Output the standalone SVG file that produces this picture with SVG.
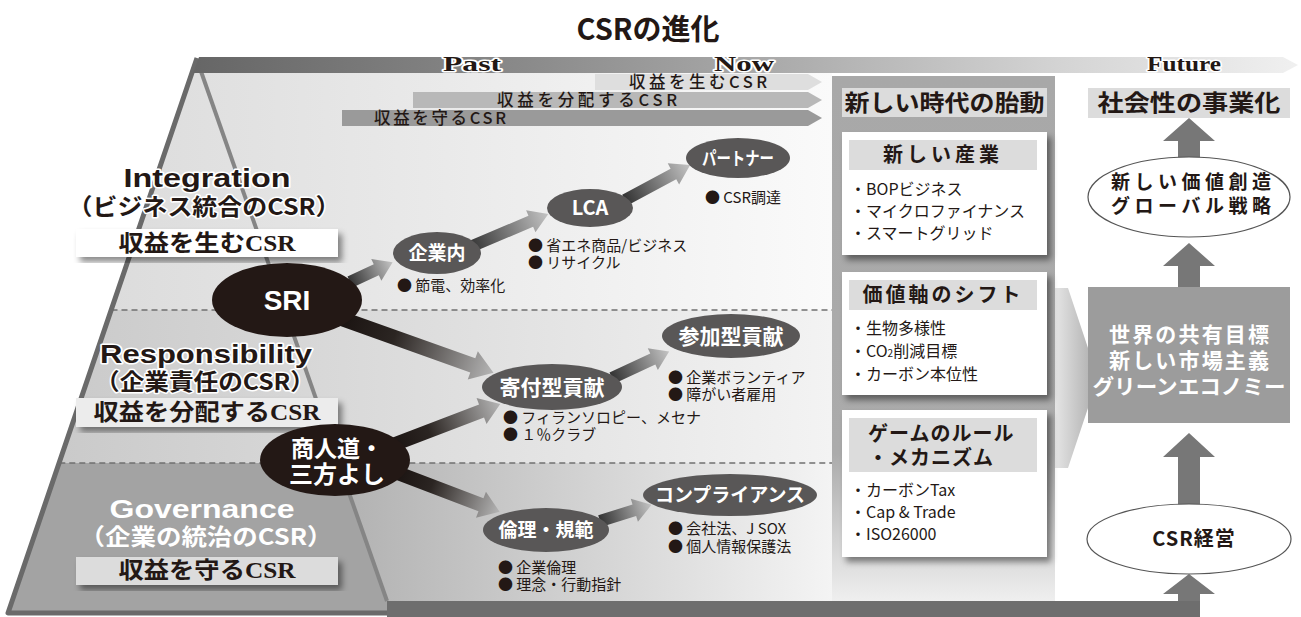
<svg xmlns="http://www.w3.org/2000/svg" width="1301" height="617" viewBox="0 0 1301 617">
<style>
.jp{font-family:"Noto Sans CJK JP",sans-serif}
.b{font-weight:700}
.ser{font-family:"Liberation Serif","Noto Sans CJK JP",serif;font-weight:700}
.lat{font-family:"Liberation Sans","Noto Sans CJK JP",sans-serif;font-weight:700}
.nd{fill:#595757}
.nb{fill:#231815}
.nt{fill:#fff;font-family:"Noto Sans CJK JP",sans-serif;font-weight:700;text-anchor:middle}
.bul{font-family:"Noto Sans CJK JP",sans-serif;font-size:15px;fill:#231815}
.item{font-family:"Noto Sans CJK JP",sans-serif;font-size:16px;fill:#231815}
.hdr{fill:#dcdcdc}
.card{fill:#fff;filter:url(#sh)}
.up{fill:#777}
.dash{stroke:#707070;stroke-width:1.5;stroke-dasharray:6 4;fill:none}
.halo{stroke:#fff;stroke-width:3;paint-order:stroke;stroke-linejoin:round}
.arr{fill:url(#ga)}
.arrB{fill:url(#gb)}
.pa{font-family:"Noto Sans CJK JP",sans-serif;font-size:16.5px;font-weight:500;fill:#231815;text-anchor:middle}
</style>
<defs>
<filter id="sh" x="-10%" y="-10%" width="125%" height="130%">
<feDropShadow dx="4" dy="5" stdDeviation="3" flood-color="#000" flood-opacity="0.45"/>
</filter>
<linearGradient id="gbar" x1="0" y1="0" x2="1" y2="0">
<stop offset="0" stop-color="#666"/><stop offset="0.3" stop-color="#8a8a8a"/><stop offset="0.55" stop-color="#aeaeae"/><stop offset="0.8" stop-color="#d6d6d6"/><stop offset="1" stop-color="#f0f0f0"/>
</linearGradient>
<linearGradient id="gTop" gradientUnits="userSpaceOnUse" x1="110" y1="0" x2="832" y2="0">
<stop offset="0" stop-color="#dcdcdc"/><stop offset="1" stop-color="#fafafa"/>
</linearGradient>
<linearGradient id="gMid" gradientUnits="userSpaceOnUse" x1="60" y1="0" x2="832" y2="0">
<stop offset="0" stop-color="#cacaca"/><stop offset="1" stop-color="#f3f3f3"/>
</linearGradient>
<linearGradient id="gBot" gradientUnits="userSpaceOnUse" x1="330" y1="0" x2="832" y2="0">
<stop offset="0" stop-color="#b0b0b0"/><stop offset="1" stop-color="#f4f4f4"/>
</linearGradient>
<linearGradient id="gPanel" x1="0" y1="0" x2="0" y2="1">
<stop offset="0" stop-color="#a8a8a8"/><stop offset="0.72" stop-color="#ababab"/><stop offset="1" stop-color="#efefef"/>
</linearGradient>
<linearGradient id="gChev" x1="0" y1="0" x2="1" y2="0">
<stop offset="0" stop-color="#ececec"/><stop offset="1" stop-color="#a9a9a9"/>
</linearGradient>
<linearGradient id="ga" x1="0" y1="0" x2="1" y2="0">
<stop offset="0" stop-color="#333"/><stop offset="1" stop-color="#c4c4c4"/>
</linearGradient>
<linearGradient id="gb" x1="0" y1="0" x2="1" y2="0">
<stop offset="0" stop-color="#1a1311"/><stop offset="0.35" stop-color="#2b2522"/><stop offset="1" stop-color="#b5b5b5"/>
</linearGradient>
</defs>

<rect width="1301" height="617" fill="#fff"/>

<!-- title -->
<text x="648" y="40" class="jp b" font-size="29" text-anchor="middle" fill="#231815">CSRの進化</text>

<!-- pyramid background -->
<g id="pyramid">
<polygon points="197,60 832,60 832,310 111.5,310" fill="url(#gTop)"/>
<polygon points="111.5,310 832,310 832,463 59.3,463" fill="url(#gMid)"/>
<polygon points="59.3,463 832,463 832,601 387,601 387,613 8,613" fill="url(#gBot)"/>
<polygon points="59.3,463 338.3,463 387,601 387,613 8,613" fill="#a3a3a3"/>
<line x1="111.5" y1="310" x2="832" y2="310" class="dash"/>
<line x1="59.3" y1="463" x2="832" y2="463" class="dash"/>
<line x1="197" y1="60" x2="387" y2="601" stroke="#858585" stroke-width="4"/>
<polyline points="197,58 8,613 390,613" fill="none" stroke="#6a6a6a" stroke-width="5" stroke-linejoin="round"/>
<rect x="387" y="601" width="813" height="16" fill="#6e6e6e"/>
</g>

<!-- timeline -->
<g id="timeline">
<path d="M193,73 L199,57 L1283,57 L1298,65 L1283,73 Z" fill="url(#gbar)"/>
<text x="472" y="71" class="ser halo" font-size="22" text-anchor="middle" fill="#231815" textLength="58" lengthAdjust="spacingAndGlyphs">Past</text>
<text x="744" y="71" class="ser halo" font-size="22" text-anchor="middle" fill="#231815" textLength="60" lengthAdjust="spacingAndGlyphs">Now</text>
<text x="1184" y="71" class="ser halo" font-size="22" text-anchor="middle" fill="#231815" textLength="74" lengthAdjust="spacingAndGlyphs">Future</text>
</g>

<!-- profit arrows -->
<g id="profit-arrows">
<polygon points="595,74 808,74 822,82 808,90 595,90" fill="#dedede"/>
<text x="698" y="88" class="pa" textLength="138" lengthAdjust="spacing">収益を生むCSR</text>
<polygon points="413,92 808,92 822,100 808,108 413,108" fill="#b8b8b8"/>
<text x="587" y="106" class="pa" textLength="180" lengthAdjust="spacing">収益を分配するCSR</text>
<polygon points="342,110 808,110 822,118 808,126 342,126" fill="#9a9a9a"/>
<text x="440" y="124" class="pa" textLength="132" lengthAdjust="spacing">収益を守るCSR</text>
</g>

<!-- level labels -->
<g id="level-integration">
<text x="207" y="187" class="lat halo" font-size="25" text-anchor="middle" fill="#231815" textLength="167" lengthAdjust="spacingAndGlyphs">Integration</text>
<text x="204" y="215" class="jp b halo" font-size="23" text-anchor="middle" fill="#231815" textLength="273" lengthAdjust="spacingAndGlyphs">（ビジネス統合のCSR）</text>
<rect x="76" y="229" width="262" height="28" fill="#fff" filter="url(#sh)"/>
<text x="207" y="251" class="ser" font-size="23" text-anchor="middle" fill="#231815" textLength="177" lengthAdjust="spacingAndGlyphs">収益を生むCSR</text>
</g>
<g id="level-responsibility">
<text x="206" y="363" class="lat halo" font-size="25" text-anchor="middle" fill="#231815" textLength="212" lengthAdjust="spacingAndGlyphs">Responsibility</text>
<text x="205" y="390" class="jp b halo" font-size="23" text-anchor="middle" fill="#231815" textLength="220" lengthAdjust="spacingAndGlyphs">（企業責任のCSR）</text>
<rect x="76" y="398" width="262" height="29" fill="#ececec" filter="url(#sh)"/>
<text x="207" y="420" class="ser" font-size="23" text-anchor="middle" fill="#231815" textLength="227" lengthAdjust="spacingAndGlyphs">収益を分配するCSR</text>
</g>
<g id="level-governance">
<text x="202" y="518" class="lat" font-size="25" text-anchor="middle" fill="#fff" textLength="185" lengthAdjust="spacingAndGlyphs">Governance</text>
<text x="206" y="545" class="jp b" font-size="23" text-anchor="middle" fill="#fff" textLength="253" lengthAdjust="spacingAndGlyphs">（企業の統治のCSR）</text>
<rect x="76" y="557" width="262" height="28" fill="#dcdcdc" filter="url(#sh)"/>
<text x="207" y="578" class="ser" font-size="23" text-anchor="middle" fill="#231815" textLength="177" lengthAdjust="spacingAndGlyphs">収益を守るCSR</text>
</g>

<!-- connectors -->
<g id="connectors">
<path class="arr" transform="translate(350,282) rotate(-24.9)" d="M0,-6 L29,-6 L29,-12 L47,0 L29,12 L29,6 L0,6 Z"/>
<path class="arr" transform="translate(470,247) rotate(-22.9)" d="M0,-6 L66,-6 L66,-12 L85,0 L66,12 L66,6 L0,6 Z"/>
<path class="arr" transform="translate(625,200) rotate(-28.3)" d="M0,-6 L55,-6 L55,-12 L74,0 L55,12 L55,6 L0,6 Z"/>
<path class="arrB" transform="translate(340,318) rotate(19.65)" d="M0,-7.5 L141,-7.5 L141,-15 L163,0 L141,15 L141,7.5 L0,7.5 Z"/>
<path class="arrB" transform="translate(390,446) rotate(-20.9)" d="M0,-7 L98,-7 L98,-14 L118,0 L98,14 L98,7 L0,7 Z"/>
<path class="arr" transform="translate(612,378) rotate(-24.9)" d="M0,-6 L45,-6 L45,-12 L63,0 L45,12 L45,6 L0,6 Z"/>
<path class="arrB" transform="translate(395,472) rotate(20.85)" d="M0,-7 L92,-7 L92,-14 L112,0 L92,14 L92,7 L0,7 Z"/>
<path class="arr" transform="translate(600,521) rotate(-17.4)" d="M0,-6 L36,-6 L36,-12 L54,0 L36,12 L36,6 L0,6 Z"/>
</g>

<!-- nodes -->
<g id="n-sri"><ellipse cx="287" cy="300" rx="75" ry="37" class="nb"/><text x="287" y="310" class="lat" font-size="28" fill="#fff" text-anchor="middle">SRI</text></g>
<g id="n-shonin"><ellipse cx="335" cy="460" rx="75" ry="36" class="nb"/><text x="337" y="457" class="nt" font-size="23">商人道・</text><text x="337" y="483" class="nt" font-size="24">三方よし</text></g>
<g id="n-kigyonai"><ellipse cx="437" cy="253" rx="44" ry="21" class="nd"/><text x="437" y="260" class="nt" font-size="19">企業内</text></g>
<g id="n-lca"><ellipse cx="590" cy="208" rx="43" ry="19" class="nd"/><text x="590" y="215" class="nt" font-size="20">LCA</text></g>
<g id="n-partner"><ellipse cx="738" cy="158" rx="52" ry="20" class="nd"/><text x="738" y="165" class="nt" font-size="18" textLength="72" lengthAdjust="spacingAndGlyphs">パートナー</text></g>
<g id="n-sanka"><ellipse cx="731" cy="336" rx="69" ry="22" class="nd"/><text x="731" y="344" class="nt" font-size="21">参加型貢献</text></g>
<g id="n-kifu"><ellipse cx="552" cy="387" rx="70" ry="23" class="nd"/><text x="552" y="395" class="nt" font-size="21">寄付型貢献</text></g>
<g id="n-comp"><ellipse cx="730" cy="495" rx="87" ry="21" class="nd"/><text x="730" y="502" class="nt" font-size="19" textLength="150" lengthAdjust="spacingAndGlyphs">コンプライアンス</text></g>
<g id="n-rinri"><ellipse cx="546" cy="530" rx="63" ry="22" class="nd"/><text x="546" y="537" class="nt" font-size="19">倫理・規範</text></g>

<!-- bullets -->
<g id="bullets">
<text x="397" y="291" class="bul">● 節電、効率化</text>
<text x="528" y="251" class="bul">● 省エネ商品/ビジネス</text>
<text x="528" y="268" class="bul">● リサイクル</text>
<text x="705" y="203" class="bul">● CSR調達</text>
<text x="668" y="383" class="bul">● 企業ボランティア</text>
<text x="668" y="400" class="bul">● 障がい者雇用</text>
<text x="503" y="423" class="bul">● フィランソロピー、メセナ</text>
<text x="503" y="440" class="bul">● １％クラブ</text>
<text x="668" y="534" class="bul">● 会社法、J SOX</text>
<text x="668" y="552" class="bul">● 個人情報保護法</text>
<text x="498" y="573" class="bul">● 企業倫理</text>
<text x="498" y="590" class="bul">● 理念・行動指針</text>
</g>

<!-- middle panel -->
<g id="panel">
<polygon points="1050,288 1068,288 1098,378 1068,468 1050,468" fill="url(#gChev)"/>
<rect x="832" y="76" width="223" height="525" fill="url(#gPanel)"/>
<rect x="842" y="88" width="205" height="29" class="hdr"/>
<text x="944.5" y="111" class="ser" font-size="23" text-anchor="middle" fill="#231815" textLength="200" lengthAdjust="spacingAndGlyphs">新しい時代の胎動</text>
</g>
<g id="card-industry">
<rect x="842" y="132" width="205" height="123" class="card"/>
<rect x="849" y="140" width="188" height="30" class="hdr"/>
<text x="943" y="162" class="jp b" font-size="20" text-anchor="middle" fill="#231815" letter-spacing="4">新しい産業</text>
<text x="850" y="195" class="item">・BOPビジネス</text>
<text x="850" y="217" class="item">・マイクロファイナンス</text>
<text x="850" y="239" class="item">・スマートグリッド</text>
</g>
<g id="card-value">
<rect x="842" y="272" width="205" height="123" class="card"/>
<rect x="849" y="280" width="188" height="30" class="hdr"/>
<text x="943" y="302" class="jp b" font-size="20" text-anchor="middle" fill="#231815" letter-spacing="3">価値軸のシフト</text>
<text x="850" y="334" class="item">・生物多様性</text>
<text x="850" y="357" class="item">・CO<tspan font-size="10">2</tspan>削減目標</text>
<text x="850" y="380" class="item">・カーボン本位性</text>
</g>
<g id="card-rule">
<rect x="842" y="410" width="205" height="147" class="card"/>
<rect x="849" y="418" width="188" height="54" class="hdr"/>
<text x="868" y="441" class="jp b" font-size="20" fill="#231815" letter-spacing="1">ゲームのルール</text>
<text x="868" y="465" class="jp b" font-size="20" fill="#231815" letter-spacing="1">・メカニズム</text>
<text x="850" y="496" class="item">・カーボンTax</text>
<text x="850" y="518" class="item">・Cap &amp; Trade</text>
<text x="850" y="540" class="item">・ISO26000</text>
</g>

<!-- right column -->
<g id="future-head">
<rect x="1088" y="88" width="202" height="30" fill="#dcdcdc"/>
<text x="1189" y="111" class="ser" font-size="23" text-anchor="middle" fill="#231815" textLength="183" lengthAdjust="spacingAndGlyphs">社会性の事業化</text>
</g>
<g id="up-arrows">
<path class="up" d="M1189,118 L1215,141 L1200,141 L1200,158 L1178,158 L1178,141 L1163,141 Z"/>
<path class="up" d="M1189,243 L1215,266 L1200,266 L1200,287 L1178,287 L1178,266 L1163,266 Z"/>
<path class="up" d="M1189,433 L1215,457 L1200,457 L1200,505 L1178,505 L1178,457 L1163,457 Z"/>
<path class="up" d="M1189,574 L1215,594 L1200,594 L1200,601 L1178,601 L1178,594 L1163,594 Z" fill="#6e6e6e"/>
</g>
<g id="n-global">
<ellipse cx="1189" cy="197" rx="101" ry="40" fill="#fff" stroke="#555" stroke-width="1.2"/>
<text x="1191" y="189" class="jp b" font-size="19" text-anchor="middle" fill="#231815" textLength="160" lengthAdjust="spacing">新しい価値創造</text>
<text x="1191" y="213" class="jp b" font-size="19" text-anchor="middle" fill="#231815" textLength="160" lengthAdjust="spacing">グローバル戦略</text>
</g>
<g id="n-world">
<rect x="1088" y="287" width="202" height="136" fill="#9c9c9c"/>
<text x="1189" y="342" class="jp b" font-size="21" text-anchor="middle" fill="#fff" textLength="160" lengthAdjust="spacing">世界の共有目標</text>
<text x="1189" y="368" class="jp b" font-size="21" text-anchor="middle" fill="#fff" textLength="160" lengthAdjust="spacing">新しい市場主義</text>
<text x="1189" y="394" class="jp b" font-size="21" text-anchor="middle" fill="#fff" textLength="193" lengthAdjust="spacingAndGlyphs">グリーンエコノミー</text>
</g>
<g id="n-csr">
<ellipse cx="1189" cy="539" rx="102" ry="35" fill="#fff" stroke="#555" stroke-width="1.2"/>
<text x="1194" y="546" class="jp b" font-size="20" text-anchor="middle" fill="#231815" letter-spacing="1">CSR経営</text>
</g>
</svg>
